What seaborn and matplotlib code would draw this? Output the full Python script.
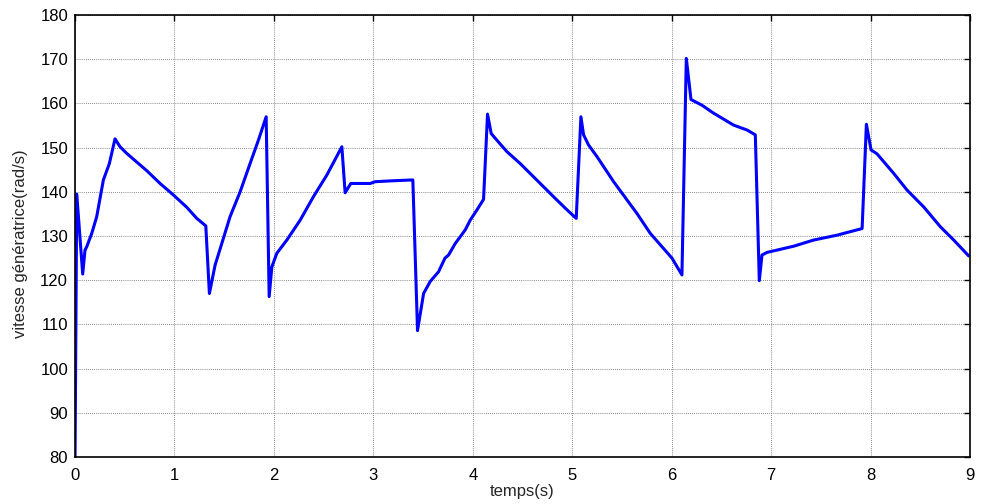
import matplotlib
matplotlib.use("Agg")
import matplotlib.pyplot as plt
import seaborn as sns
import pandas as pd

# time (s)
temps = [0.0, 0.017, 0.077, 0.10, 0.118, 0.168, 0.218, 0.285, 0.345, 0.402,
         0.453, 0.52, 0.587, 0.721, 0.855, 0.989, 1.124, 1.224, 1.315,
         1.351, 1.408, 1.492, 1.559, 1.66, 1.76, 1.844, 1.922,
         1.952, 1.979, 2.029, 2.13, 2.264, 2.397, 2.532, 2.683,
         2.716, 2.773, 2.968, 3.018, 3.186, 3.397,
         3.444, 3.505, 3.571, 3.655, 3.72, 3.756, 3.823, 3.924, 3.974, 4.041, 4.108,
         4.148, 4.185, 4.242, 4.343, 4.477, 4.678, 4.812, 4.93, 5.04,
         5.087, 5.114, 5.164, 5.248, 5.416, 5.651, 5.785, 6.003, 6.103,
         6.147, 6.194, 6.305, 6.422, 6.623, 6.758, 6.841,
         6.881, 6.908, 6.959, 7.227, 7.428, 7.663, 7.915,
         7.958, 8.005, 8.065, 8.232, 8.367, 8.534, 8.702, 8.836, 8.987]
# generator speed (rad/s)
vitesse = [80.0, 139.5, 121.4, 126.8, 127.6, 130.6, 134.4, 142.7, 146.4, 152.0,
           150.2, 148.7, 147.4, 144.8, 141.9, 139.3, 136.5, 134.0, 132.3,
           117.0, 123.4, 129.5, 134.4, 140.0, 146.4, 151.7, 157.0,
           116.3, 123.0, 126.1, 129.1, 133.6, 138.9, 143.8, 150.2,
           139.8, 141.9, 141.9, 142.3, 142.5, 142.7,
           108.6, 117.0, 119.7, 121.9, 125.0, 125.7, 128.3, 131.4, 133.6, 135.9, 138.3,
           157.6, 153.2, 151.7, 149.1, 146.4, 141.9, 138.9, 136.3, 134.0,
           157.0, 152.9, 150.6, 148.0, 142.3, 135.1, 130.6, 125.0, 121.2,
           170.2, 160.9, 159.6, 157.8, 155.1, 154.0, 152.9,
           119.9, 125.7, 126.3, 127.7, 129.1, 130.2, 131.7,
           155.3, 149.5, 148.6, 144.2, 140.4, 136.6, 132.1, 129.1, 125.5]

xticks = [0, 1, 2, 3, 4, 5, 6, 7, 8, 9]
yticks = [80, 90, 100, 110, 120, 130, 140, 150, 160, 170, 180]

df = pd.DataFrame({"temps": temps, "vitesse": vitesse})

sns.set_style("white")
plt.rcParams["font.family"] = ["Liberation Sans", "DejaVu Sans"]

fig = plt.figure(figsize=(9.81, 5.04), dpi=100)
ax = fig.add_axes([0.0765, 0.0933, 0.9123, 0.8767])

sns.lineplot(data=df, x="temps", y="vitesse", sort=False, estimator=None,
             color=(0, 0, 1), linewidth=2.2, ax=ax)

ax.set_xlim(0, 9)
ax.set_ylim(80, 180)
ax.set_xticks(xticks)
ax.set_yticks(yticks)
ax.set_xticklabels([str(v) for v in xticks])
ax.set_yticklabels([str(v) for v in yticks])
ax.grid(True, color="#666666", linestyle=(0, (1, 1.5)), linewidth=0.6)
ax.tick_params(direction="in", length=4, width=1, labelsize=12,
               top=True, right=True, colors="black")
ax.tick_params(axis="x", pad=8)
ax.tick_params(axis="y", pad=5)
for s in ax.spines.values():
    s.set_color("black")
    s.set_linewidth(1.2)
ax.set_xlabel("temps(s)", fontsize=12)
ax.set_ylabel("vitesse génératrice(rad/s)", fontsize=12)
ax.xaxis.set_label_coords(0.5, -0.061)
ax.yaxis.set_label_coords(-0.053, 0.482)

fig.savefig("out.png", dpi=100)
